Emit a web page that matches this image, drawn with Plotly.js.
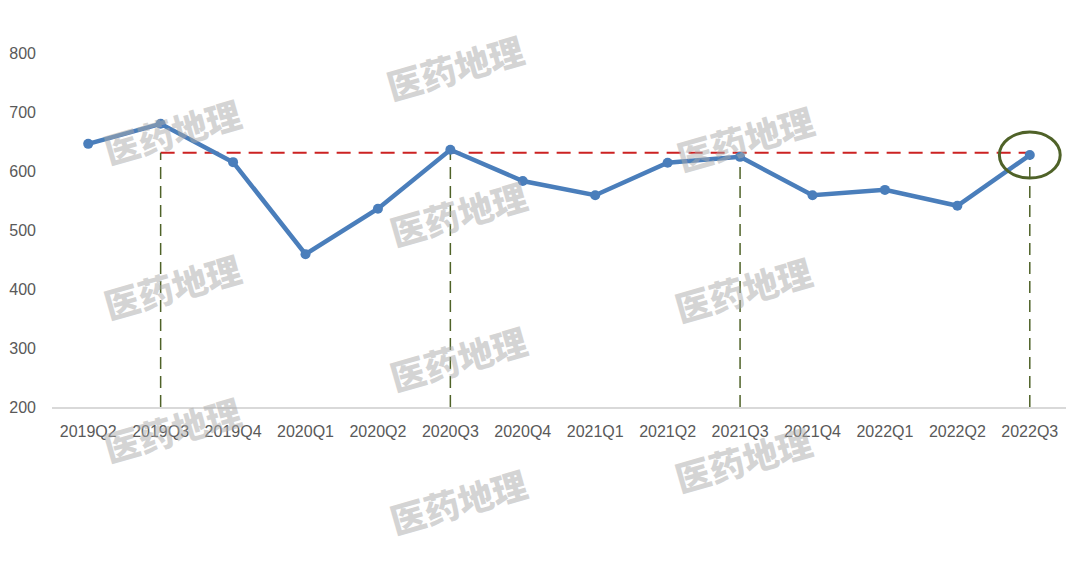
<!DOCTYPE html>
<html>
<head>
<meta charset="utf-8">
<script src="https://cdn.plot.ly/plotly-3.0.1.min.js"></script>
<style>html,body{margin:0;padding:0;background:#fff;}#chart{width:1080px;height:570px;}</style>
</head>
<body>
<div id="chart"></div>
<script>
const categories = ["2019Q2","2019Q3","2019Q4","2020Q1","2020Q2","2020Q3","2020Q4","2021Q1","2021Q2","2021Q3","2021Q4","2022Q1","2022Q2","2022Q3"];
const values = [646, 680, 615, 459, 536, 636, 583, 559, 614, 624, 559, 568, 541, 627];
const refValue = 631;
const refStart = "2019Q3";
const refEnd = "2022Q3";
const markedQuarters = ["2019Q3","2020Q3","2021Q3","2022Q3"];
const highlighted = "2022Q3";
const yTicks = [200, 300, 400, 500, 600, 700, 800];
const watermarkText = "医药地理";
const watermarkSpots = [[455,67],[172,130],[458,212],[745,137],[172,285],[743,288],[458,357],[172,428],[743,458],[458,500]];

const W = 1080, H = 570;
const mL = 52, mR = 14, mT = 53, mB = 163;
const pw = W - mL - mR, ph = H - mT - mB;

const traces = [];

traces.push({
  x: [refStart, refEnd], y: [refValue, refValue],
  mode: 'lines', type: 'scatter', hoverinfo: 'skip', showlegend: false,
  line: {color: '#cc2222', width: 2, dash: '14px,8px'}
});

markedQuarters.forEach(q => {
  const v = values[categories.indexOf(q)];
  traces.push({
    x: [q, q], y: [200, Math.min(v, refValue)],
    mode: 'lines', type: 'scatter', hoverinfo: 'skip', showlegend: false,
    line: {color: '#4f6228', width: 1.5, dash: '12px,7px'}
  });
});

traces.push({
  x: categories, y: values,
  mode: 'lines+markers', type: 'scatter', showlegend: false,
  line: {color: '#4a7ebb', width: 4.5},
  marker: {color: '#4a7ebb', size: 10}
});

const hIdx = categories.indexOf(highlighted);
const hVal = values[hIdx];

const annotations = watermarkSpots.map(p => ({
  xref: 'paper', yref: 'paper',
  x: (p[0] - mL) / pw, y: (H - mB - p[1]) / ph,
  xanchor: 'center', yanchor: 'middle',
  text: watermarkText,
  showarrow: false, textangle: -16,
  font: {family: 'Noto Sans CJK SC', size: 35, weight: 900, color: 'rgba(170,170,170,0.5)'}
}));

const layout = {
  width: W, height: H,
  margin: {l: mL, r: mR, t: mT, b: mB, pad: 0},
  paper_bgcolor: '#ffffff', plot_bgcolor: '#ffffff',
  font: {family: 'Liberation Sans, Arial, sans-serif', color: '#595959', size: 16},
  xaxis: {
    type: 'category', categoryorder: 'array', categoryarray: categories,
    range: [-0.5, categories.length - 0.5],
    showgrid: false, zeroline: false,
    showline: true, linecolor: '#d9d9d9', linewidth: 1.5,
    ticks: '', ticklabelstandoff: 9,
    tickfont: {size: 16, color: '#595959'}
  },
  yaxis: {
    range: [200, 800], tickvals: yTicks,
    showgrid: false, zeroline: false, showline: false,
    ticks: '', ticklabelstandoff: 15,
    tickfont: {size: 16, color: '#595959'}
  },
  shapes: [{
    type: 'circle', xref: 'x', yref: 'y',
    x0: hIdx - 0.42, x1: hIdx + 0.42,
    y0: hVal - 39, y1: hVal + 39,
    line: {color: '#4f6228', width: 3}
  }],
  annotations: annotations
};

Plotly.newPlot('chart', traces, layout, {displayModeBar: false, staticPlot: true});
</script>
</body>
</html>
